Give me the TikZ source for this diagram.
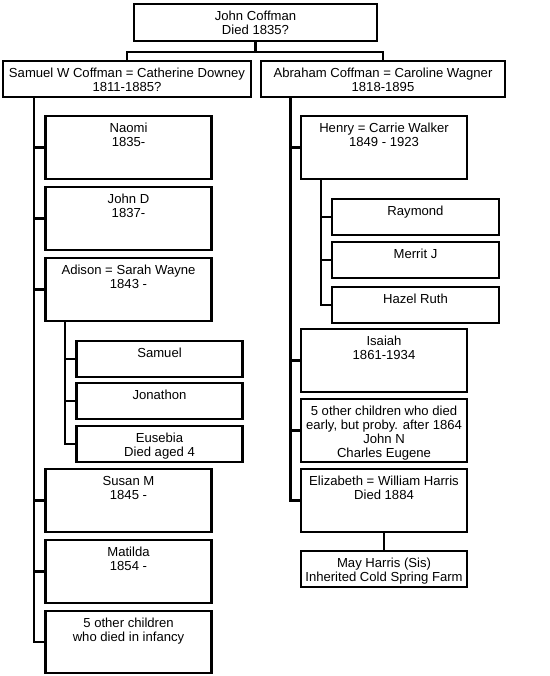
\documentclass[tikz,border=0pt]{standalone}
\usepackage{fontspec}
\setmainfont{Liberation Sans}

\begin{document}
\begin{tikzpicture}[x=1pt,y=-1pt,
    person/.style={draw, line width=2.3pt, anchor=north west, inner sep=0pt, outer sep=0pt},
    big/.style={person, minimum width=166pt, minimum height=63pt},
    small/.style={person, minimum width=166pt, minimum height=36pt},
    who/.style={label={[align=center, anchor=north, inner sep=0pt, yshift=-7pt,
        font=\fontsize{13.1}{13.8}\selectfont]north:{#1}}},
    link/.style={line width=2.2pt}]
    \useasboundingbox (0,0) rectangle (549,676);

    % top of the tree
    \node[person, minimum width=243pt, minimum height=37pt, who={John Coffman\\Died 1835?}] (john) at (134,4) {};
    \node[person, minimum width=248pt, minimum height=36pt, who={Samuel W Coffman = Catherine Downey\\1811-1885?}] (samuel) at (3,61) {};
    \node[person, minimum width=244pt, minimum height=36pt, who={Abraham Coffman = Caroline Wagner\\1818-1895}] (abraham) at (261,61) {};

    % Samuel's children
    \node[big, who={Naomi\\1835-}] (naomi) at (45.5,116) {};
    \node[big, who={John D\\1837-}] (johnd) at (45.5,187) {};
    \node[big, who={Adison = Sarah Wayne\\1843 -}] (adison) at (45.5,258) {};
    \node[small, who={Samuel}] (samueljr) at (76.5,341) {};
    \node[small, who={Jonathon}] (jonathon) at (76.5,383) {};
    \node[small, who={Eusebia\\Died aged 4}] (eusebia) at (76.5,426) {};
    \node[big, who={Susan M\\1845 -}] (susan) at (45.5,469) {};
    \node[big, who={Matilda\\1854 -}] (matilda) at (45.5,540) {};
    \node[big, minimum height=62pt, who={5 other children\\who died in infancy}] (infants) at (45.5,611) {};

    % Abraham's children
    \node[big, who={Henry = Carrie Walker\\1849 - 1923}] (henry) at (301,116) {};
    \node[small, minimum width=167pt, who={Raymond}] (raymond) at (332,199) {};
    \node[small, minimum width=167pt, who={Merrit J}] (merrit) at (332,242) {};
    \node[small, minimum width=167pt, who={Hazel Ruth}] (hazel) at (332,287) {};
    \node[big, who={Isaiah\\1861-1934}] (isaiah) at (301,329) {};
    \node[big, who={5 other children who died\\early, but proby. after 1864\\John N\\Charles Eugene}] (others) at (301,399) {};
    \node[big, who={Elizabeth = William Harris\\Died 1884}] (elizabeth) at (301,469) {};
    \node[small, line width=1.8pt, who={May Harris (Sis)\\Inherited Cold Spring Farm}] (may) at (301,551) {};

    \coordinate (fork) at (255.5,52);
    \coordinate (sspine) at (34,97);
    \coordinate (aspine) at (65,321);
    \coordinate (rspine) at (290.5,97);
    \coordinate (hspine) at (321,180);

    \draw[link] (john.south) -- (fork) -| (samuel.north);
    \draw[link] (fork) -| (abraham.north);
    \draw[link] (sspine) |- (naomi.west) (sspine) |- (johnd.west) (sspine) |- (adison.west)
        (sspine) |- (susan.west) (sspine) |- (matilda.west) (sspine) |- (infants.west);
    \draw[link] (aspine) |- (samueljr.west) (aspine) |- (jonathon.west) (aspine) |- (eusebia.west);
    \draw[link] (rspine) |- (henry.west) (rspine) |- (isaiah.west) (rspine) |- (others.west)
        (rspine) |- (elizabeth.west);
    \draw[link] (hspine) |- (raymond.west) (hspine) |- (merrit.west) (hspine) |- (hazel.west);
    \draw[line width=1.5pt] (elizabeth.south) -- (may.north);
\end{tikzpicture}
\end{document}
